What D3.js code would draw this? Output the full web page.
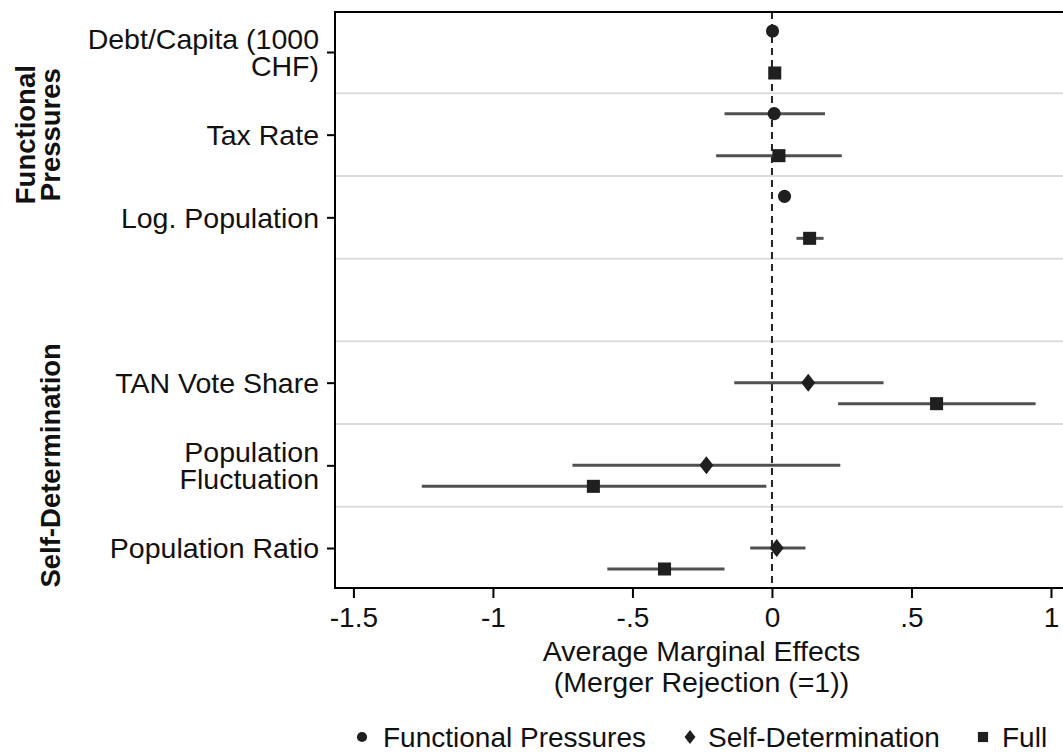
<!DOCTYPE html>
<html>
<head>
<meta charset="utf-8">
<script src="https://cdn.jsdelivr.net/npm/d3@7"></script>
<style>
  html, body { margin: 0; padding: 0; background: #fff; }
  svg { display: block; font-family: "Liberation Sans", Arial, sans-serif; }
</style>
</head>
<body>
<svg id="chart" width="1063" height="754"></svg>
<script>
// ---------- data ----------
const rows = ["debt", "tax", "logpop", "gap", "tan", "popfluct", "popratio"];
const rowLabels = [["Debt/Capita (1000", "CHF)"], ["Tax Rate"], ["Log. Population"], [], ["TAN Vote Share"], ["Population", "Fluctuation"], ["Population Ratio"]];
const groups = [["Functional", "Pressures"], ["Self-Determination"]];
const groupRows = [["debt", "logpop"], ["tan", "popratio"]];

const modelNames = ["Functional Pressures", "Self-Determination", "Full"];
const modelShapes = ["circle", "diamond", "square"];

// Functional Pressures model
const fpVars = ["debt", "tax", "logpop"];
const fpEst  = [0.002, 0.008, 0.045];
const fpLo   = [-0.006, -0.17, 0.035];
const fpHi   = [0.010, 0.19, 0.055];

// Self-Determination model
const sdVars = ["tan", "popfluct", "popratio"];
const sdEst  = [0.13, -0.235, 0.017];
const sdLo   = [-0.135, -0.715, -0.078];
const sdHi   = [0.40, 0.245, 0.12];

// Full model
const fullVars = ["debt", "tax", "logpop", "tan", "popfluct", "popratio"];
const fullEst  = [0.01, 0.025, 0.135, 0.59, -0.64, -0.385];
const fullLo   = [0.0, -0.20, 0.088, 0.237, -1.255, -0.59];
const fullHi   = [0.02, 0.25, 0.185, 0.945, -0.02, -0.17];

const xTicks = [-1.5, -1, -0.5, 0, 0.5, 1];
const xTickLabels = ["-1.5", "-1", "-.5", "0", ".5", "1"];
const xTitle = ["Average Marginal Effects", "(Merger Rejection (=1))"];

// ---------- layout ----------
const svg = d3.select("#chart");
const plotL = 335, plotT = 12, plotB = 588, plotR = 1068;
const x = d3.scaleLinear().domain([-1.566, 1.061]).range([plotL, plotR]);
const y = d3.scalePoint().domain(rows).range([52, 548]);
const step = y.step();
const off = 21 / step;
const modelOffset = [-off, 0, off];

const ink = "#1f1f1f";
const ciColor = "#505050";

// gridlines between rows
const gridYs = rows.slice(0, -1).map(r => y(r) + step / 2);
svg.append("g").selectAll("line").data(gridYs).join("line")
  .attr("x1", plotL).attr("x2", 1063)
  .attr("y1", d => d).attr("y2", d => d)
  .attr("stroke", "#dcdcdc").attr("stroke-width", 2);

// zero reference line
svg.append("line")
  .attr("x1", x(0)).attr("x2", x(0))
  .attr("y1", plotT).attr("y2", plotB)
  .attr("stroke", "#222").attr("stroke-width", 2)
  .attr("stroke-dasharray", "7,5");

// frame
svg.append("path")
  .attr("d", `M1063,${plotT} H${plotL} V${plotB} H1063`)
  .attr("fill", "none").attr("stroke", "#000").attr("stroke-width", 2);

// x axis
const xAxis = d3.axisBottom(x).tickValues(xTicks).tickSize(10)
  .tickFormat((d, i) => xTickLabels[i]);
const gx = svg.append("g").attr("transform", `translate(0,${plotB})`).call(xAxis);
gx.select(".domain").remove();
gx.selectAll(".tick line").attr("stroke", "#000").attr("stroke-width", 2);
gx.selectAll(".tick text").attr("fill", "#111").attr("font-size", 28)
  .attr("font-family", "'Liberation Sans', Arial, sans-serif")
  .attr("y", 0).attr("dy", 0).attr("transform", "translate(0,39)");

svg.append("text").attr("x", (plotL + plotR) / 2).attr("y", 661)
  .attr("text-anchor", "middle").attr("font-size", 28.5).attr("fill", "#111")
  .text(xTitle[0]);
svg.append("text").attr("x", (plotL + plotR) / 2).attr("y", 692)
  .attr("text-anchor", "middle").attr("font-size", 28.5).attr("fill", "#111")
  .text(xTitle[1]);

// y axis
const yAxis = d3.axisLeft(y).tickValues(rows.filter(r => r !== "gap")).tickSize(8).tickFormat("");
const gy = svg.append("g").attr("transform", `translate(${plotL},0)`).call(yAxis);
gy.select(".domain").remove();
gy.selectAll(".tick line").attr("stroke", "#000").attr("stroke-width", 2);

const lblG = svg.append("g");
rows.forEach((r, i) => {
  const lines = rowLabels[i];
  const lh = 27;
  const y0 = y(r) - (lines.length - 1) * lh / 2;
  lines.forEach((t, j) => {
    lblG.append("text").attr("x", 319).attr("y", y0 + j * lh)
      .attr("dy", "0.36em").attr("text-anchor", "end")
      .attr("font-size", 28.5).attr("fill", "#111").text(t);
  });
});

// group labels
groups.forEach((g, i) => {
  const cy = (y(groupRows[i][0]) + y(groupRows[i][1])) / 2;
  const lh = 25;
  const baseX = 60 - (g.length - 1) * lh;
  g.forEach((t, j) => {
    svg.append("text")
      .attr("transform", `translate(${baseX + j * lh},${cy}) rotate(-90)`)
      .attr("text-anchor", "middle").attr("font-weight", "bold")
      .attr("font-size", 27.5).attr("fill", "#111").text(t);
  });
});

// markers
function diamondPath(w, h) {
  return `M0,${-h / 2} L${w / 2},0 L0,${h / 2} L${-w / 2},0 Z`;
}
function markerPath(shape, scale) {
  scale = scale || 1;
  if (shape === "diamond") return diamondPath(14 * scale, 18 * scale);
  return d3.symbol().type(shape === "circle" ? d3.symbolCircle : d3.symbolSquare)
    .size((shape === "circle" ? 135 : 170) * scale * scale)();
}

const models = [
  { vars: fpVars, est: fpEst, lo: fpLo, hi: fpHi },
  { vars: sdVars, est: sdEst, lo: sdLo, hi: sdHi },
  { vars: fullVars, est: fullEst, lo: fullLo, hi: fullHi },
];

models.forEach((m, k) => {
  const data = m.vars.map((v, i) => ({ v, est: m.est[i], lo: m.lo[i], hi: m.hi[i] }));
  const yy = d => y(d.v) + modelOffset[k] * step;
  const g = svg.append("g");
  g.selectAll("line").data(data).join("line")
    .attr("x1", d => x(d.lo)).attr("x2", d => x(d.hi))
    .attr("y1", yy).attr("y2", yy)
    .attr("stroke", ciColor).attr("stroke-width", 3);
  g.selectAll("path").data(data).join("path")
    .attr("d", markerPath(modelShapes[k]))
    .attr("transform", d => `translate(${x(d.est)},${yy(d)})`)
    .attr("fill", ink);
});

// legend
const legendY = 737;
const legendItems = [
  { sx: 362, tx: 383 },
  { sx: 690, tx: 708 },
  { sx: 983, tx: 1002 },
];
legendItems.forEach((it, k) => {
  svg.append("path").attr("d", markerPath(modelShapes[k], 0.78))
    .attr("transform", `translate(${it.sx},${legendY})`).attr("fill", ink);
  svg.append("text").attr("x", it.tx).attr("y", legendY).attr("dy", "0.36em")
    .attr("font-size", 28).attr("fill", "#111").text(modelNames[k]);
});
</script>
</body>
</html>
